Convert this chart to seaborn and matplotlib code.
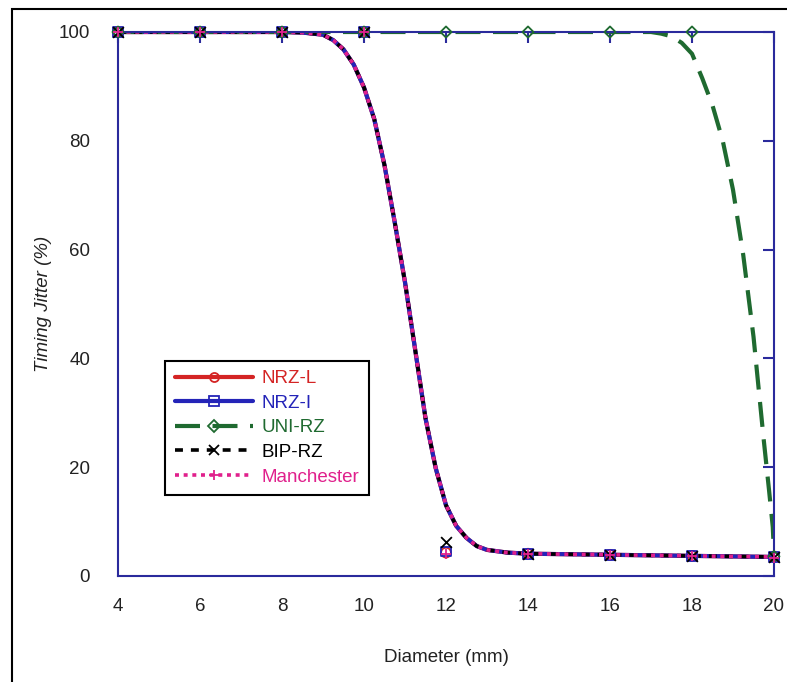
import matplotlib
matplotlib.use("Agg")
import matplotlib.pyplot as plt
from matplotlib.lines import Line2D
from matplotlib.patches import Rectangle
import seaborn as sns

# measured points (every 2 mm)
diam = [4, 6, 8, 10, 12, 14, 16, 18, 20]
nrz_l = [100, 100, 100, 100, 4.3, 4.1, 3.9, 3.7, 3.5]
nrz_i = [100, 100, 100, 100, 4.5, 4.1, 3.9, 3.7, 3.5]
uni_rz = [100, 100, 100, 100, 100, 100, 100, 100, 3.6]
bip_rz = [100, 100, 100, 100, 6.3, 4.1, 3.9, 3.7, 3.5]
manchester = [100, 100, 100, 100, 4.0, 4.0, 3.8, 3.6, 3.4]

# smoothed curves
drop_x = [4, 8, 8.5, 9, 9.25, 9.5, 9.75, 10, 10.25, 10.5, 10.75, 11, 11.25,
          11.5, 11.75, 12, 12.25, 12.5, 12.75, 13, 13.5, 14, 15, 16, 17, 18, 19, 20]
drop_y = [100, 100, 99.9, 99.5, 98.5, 96.8, 94, 89.8, 84, 75.5, 65, 54, 41.5,
          29, 19.8, 13, 9.2, 7, 5.5, 4.8, 4.3, 4.1, 4.0, 3.9, 3.8, 3.7, 3.6, 3.5]
uni_x = [4, 17, 17.25, 17.5, 17.75, 18, 18.25, 18.5, 18.75, 19, 19.25, 19.5,
         19.75, 19.88, 19.97, 20]
uni_y = [100, 100, 99.7, 99.2, 98, 96, 91.5, 86.5, 80, 71, 59, 44,
         25, 15.7, 9, 4]

labels = ["NRZ-L", "NRZ-I", "UNI-RZ", "BIP-RZ", "Manchester"]
colors = ["#d42424", "#2424b8", "#1f6a30", "#000000", "#e0208c"]
markers = ["o", "s", "D", "x", "+"]
dashes = [None, None, (6, 3), (2.2, 2.2), (1.1, 1.3)]
widths = [3, 3, 3, 2.6, 2.6]
points = [nrz_l, nrz_i, uni_rz, bip_rz, manchester]
curves = [(drop_x, drop_y), (drop_x, drop_y), (uni_x, uni_y),
          (drop_x, drop_y), (drop_x, drop_y)]

sns.set_style("white")
plt.rcParams["font.family"] = ["Liberation Sans", "DejaVu Sans"]

fig = plt.figure(figsize=(7.87, 6.82), dpi=100)
ax = fig.add_axes([118 / 787, 1 - 576 / 682, 656 / 787, 544 / 682])

for lab, c, m, d, w, pts, (cx, cy) in zip(labels, colors, markers, dashes, widths,
                                         points, curves):
    sns.lineplot(x=cx, y=cy, ax=ax, color=c, linewidth=w, sort=False)
    if d is not None:
        ax.lines[-1].set_dashes(d)
    if m in ("x", "+"):
        sns.scatterplot(x=diam, y=pts, ax=ax, marker=m, color=c, s=60,
                        linewidth=1.3, zorder=5, clip_on=False)
    else:
        sns.scatterplot(x=diam, y=pts, ax=ax, marker=m, facecolor="none",
                        edgecolor=c, s=50 if m != "D" else 32, linewidth=1.3,
                        zorder=5, clip_on=False)

ax.set_xlim(4, 20)
ax.set_ylim(0, 100)
ax.set_xticks(range(4, 21, 2))
ax.set_yticks(range(0, 101, 20))

navy = "#2a2a9c"
for s in ax.spines.values():
    s.set_color(navy)
    s.set_linewidth(1.5)
ax.tick_params(direction="in", length=8, width=1.5, color=navy,
               top=True, right=True, labelsize=13.5, labelcolor="#222222")
ax.tick_params(axis="x", pad=16)
ax.tick_params(axis="y", pad=20)

ax.set_xlabel("Diameter (mm)", fontsize=13.5, labelpad=24, color="#222222")
ax.set_ylabel("Timing Jitter (%)", fontsize=13.5, labelpad=5,
              style="italic", color="#222222")

handles = []
for c, m, d, w in zip(colors, markers, dashes, widths):
    h = Line2D([], [], color=c, linewidth=w, marker=m, markersize=6.5,
               markerfacecolor="none", markeredgewidth=1.3)
    if d is not None:
        h.set_dashes(d)
    handles.append(h)
leg = ax.legend(handles, labels, loc="lower left", bbox_to_anchor=(0.072, 0.149),
                fontsize=13.5, labelcolor=colors, handlelength=4.2,
                handletextpad=0.45, labelspacing=0.4, borderpad=0.5,
                borderaxespad=0, fancybox=False, framealpha=1, edgecolor="black")
leg.get_frame().set_linewidth(1.5)

fig.patches.append(Rectangle((12 / 787, -0.05), 1.1, 1 - 9 / 682 + 0.05,
                             transform=fig.transFigure, fill=False,
                             edgecolor="black", linewidth=1.5))

fig.savefig("out.png", dpi=100)
